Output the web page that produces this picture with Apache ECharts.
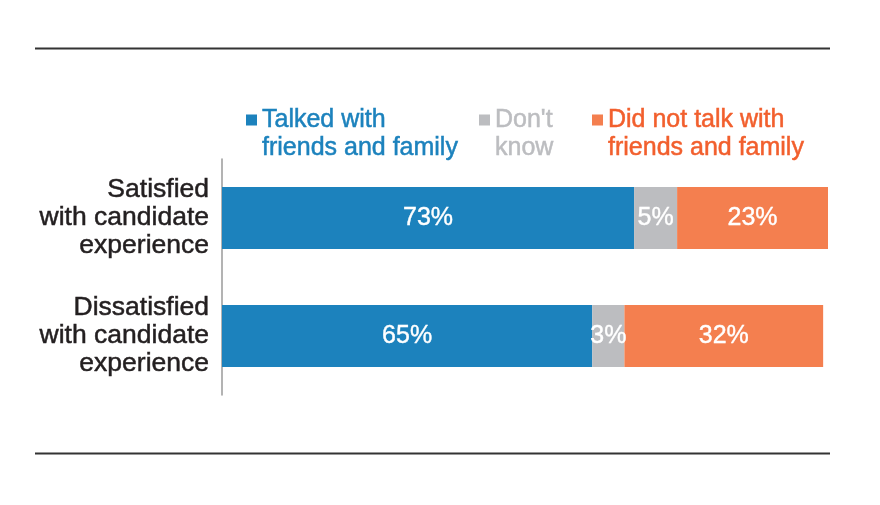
<!DOCTYPE html>
<html>
<head>
<meta charset="utf-8">
<script src="https://cdn.jsdelivr.net/npm/echarts@6/dist/echarts.min.js"></script>
<style>
html,body{margin:0;padding:0;background:#fff;}
#chart{width:880px;height:505px;}
</style>
</head>
<body>
<div id="chart"></div>
<script>
// Categories (top to bottom)
const categories = ['Satisfied\nwith candidate\nexperience', 'Dissatisfied\nwith candidate\nexperience'];
// Series names
const seriesNames = ['Talked with\nfriends and family', "Don't\nknow", 'Did not talk with\nfriends and family'];
// Printed percentages (labels)
const talkedLabels = [73, 65];
const dontKnowLabels = [5, 3];
const notTalkedLabels = [23, 32];
// Bar lengths as drawn in the picture (share of the full bar width)
const talkedValues = [68.0, 61.1];
const dontKnowValues = [7.1, 5.3];
const notTalkedValues = [24.9, 32.8];

const colors = ['#1c82bd', '#bcbdc0', '#f47f4f'];
const legendTextColors = ['#1c82bd', '#bcbdc0', '#f25f2d'];
const font = '"Liberation Sans", Arial, Helvetica, sans-serif';

const chart = echarts.init(document.getElementById('chart'), null, {renderer: 'canvas'});

function mkSeries(i, vals, labs) {
  return {
    name: seriesNames[i],
    type: 'bar',
    stack: 'total',
    barWidth: 62,
    data: vals,
    itemStyle: {color: colors[i]},
    label: {
      show: true,
      position: 'inside',
      color: '#ffffff',
      fontFamily: font,
      fontSize: 25,
      textBorderColor: '#ffffff',
      textBorderWidth: 0.4,
      formatter: function (p) { return labs[p.dataIndex] + '%'; }
    },
    emphasis: {disabled: true},
    animation: false
  };
}

const legendLefts = [246, 479, 592];
const legends = seriesNames.map(function (n, i) {
  return {
    data: [n],
    left: legendLefts[i],
    top: 106,
    padding: 0,
    orient: 'horizontal',
    icon: 'path://M0,0H11V11H0Z M0,39L0.01,39',
    itemWidth: 11,
    itemHeight: 39,
    itemStyle: {borderWidth: 0},
    selectedMode: false,
    textStyle: {
      color: legendTextColors[i],
      fontFamily: font,
      fontSize: 25,
      lineHeight: 28,
      textBorderColor: legendTextColors[i],
      textBorderWidth: 0.5
    }
  };
});

chart.setOption({
  animation: false,
  legend: legends,
  grid: {left: 222, top: 159, width: 606, height: 236, containLabel: false},
  xAxis: {
    type: 'value',
    min: 0,
    max: 100,
    show: false
  },
  yAxis: {
    type: 'category',
    inverse: true,
    data: categories,
    axisLine: {show: true, lineStyle: {color: '#9a9a9a', width: 1.5}},
    axisTick: {show: false},
    splitLine: {show: false},
    axisLabel: {
      color: '#231f20',
      fontFamily: font,
      fontSize: 26.5,
      lineHeight: 28,
      margin: 13,
      align: 'right',
      textBorderColor: '#231f20',
      textBorderWidth: 0.5
    }
  },
  series: [
    mkSeries(0, talkedValues, talkedLabels),
    mkSeries(1, dontKnowValues, dontKnowLabels),
    mkSeries(2, notTalkedValues, notTalkedLabels)
  ],
  graphic: [
    {type: 'line', shape: {x1: 35, y1: 48.5, x2: 830, y2: 48.5}, style: {stroke: '#333333', lineWidth: 2}},
    {type: 'line', shape: {x1: 35, y1: 453.5, x2: 830, y2: 453.5}, style: {stroke: '#333333', lineWidth: 2}}
  ]
});
</script>
</body>
</html>
